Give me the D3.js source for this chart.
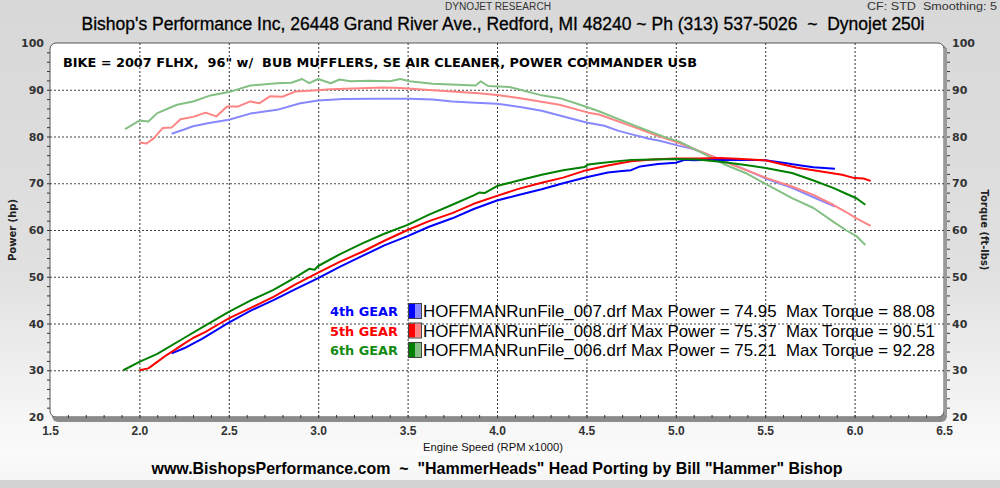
<!DOCTYPE html>
<html><head><meta charset="utf-8">
<script src="https://cdn.jsdelivr.net/npm/d3@7"></script>
<style>body{margin:0;background:#fff;overflow:hidden} text{white-space:pre}</style>
</head><body>
<svg id="c" width="1000" height="488"></svg>
<script>
// ---------- data ----------
const xTicks = [1.5, 2.0, 2.5, 3.0, 3.5, 4.0, 4.5, 5.0, 5.5, 6.0, 6.5];
const xTickLabels = ["1.5","2.0","2.5","3.0","3.5","4.0","4.5","5.0","5.5","6.0","6.5"];
const yTicks = [20, 30, 40, 50, 60, 70, 80, 90, 100];

const gearLabels = ["4th GEAR", "5th GEAR", "6th GEAR"];
const fileNames = ["HOFFMANRunFile_007.drf", "HOFFMANRunFile_008.drf", "HOFFMANRunFile_006.drf"];
const maxPower = ["74.95", "75.37", "75.21"];
const maxTorque = ["88.08", "90.51", "92.28"];

// 4th gear
const hp4Rpm = [2.18,2.25,2.35,2.5,2.62,2.75,2.87,3.0,3.12,3.25,3.37,3.5,3.62,3.75,3.87,4.0,4.12,4.25,4.37,4.5,4.62,4.7,4.75,4.8,4.9,5.0,5.05,5.1,5.2,5.3,5.4,5.5,5.6,5.7,5.77,5.85,5.89];
const hp4    = [33.6,34.7,36.7,40.2,42.7,45.0,47.3,49.7,52.1,54.5,56.7,58.7,60.7,62.5,64.5,66.3,67.5,68.7,70.0,71.3,72.3,72.6,72.8,73.6,74.1,74.4,75.0,74.9,75.0,75.0,75.0,74.9,74.4,73.8,73.4,73.2,73.1];
const tq4Rpm = [2.18,2.25,2.3,2.39,2.5,2.62,2.77,2.9,3.0,3.14,3.33,3.51,3.64,3.75,3.88,4.0,4.13,4.25,4.35,4.5,4.6,4.68,4.76,4.85,4.91,5.02,5.1,5.21,5.28,5.39,5.51,5.65,5.77,5.89];
const tq4    = [80.6,81.5,82.2,82.9,83.6,84.9,85.7,87.1,87.7,88.0,88.1,88.1,87.9,87.5,87.2,87.0,86.3,85.5,84.5,83.0,82.3,81.2,80.4,79.5,79.1,78.0,77.3,75.7,74.6,72.9,70.9,69.0,67.0,65.0];

// 5th gear
const hp5Rpm = [2.0,2.05,2.1,2.15,2.2,2.25,2.3,2.37,2.45,2.5,2.62,2.75,2.87,3.0,3.12,3.25,3.37,3.5,3.62,3.75,3.87,4.0,4.12,4.25,4.37,4.5,4.62,4.75,4.87,5.0,5.12,5.25,5.37,5.5,5.6,5.68,5.77,5.85,5.93,6.0,6.05,6.09];
const hp5    = [30.0,30.4,31.8,33.2,34.4,35.7,36.9,38.2,40.0,41.1,43.3,45.7,48.3,50.9,53.2,55.4,57.7,60.0,61.9,63.6,65.6,67.3,68.8,70.1,71.2,72.8,73.8,74.7,75.1,75.3,75.3,75.4,75.2,74.9,74.0,73.3,72.8,72.3,71.8,71.1,71.0,70.5];
const tq5Rpm = [2.0,2.04,2.08,2.13,2.18,2.23,2.3,2.37,2.43,2.49,2.55,2.62,2.67,2.73,2.8,2.87,2.95,3.07,3.24,3.36,3.46,3.64,3.88,4.0,4.13,4.35,4.51,4.57,4.76,4.91,5.02,5.13,5.21,5.32,5.51,5.65,5.77,5.88,5.95,6.01,6.09];
const tq5    = [78.7,78.5,79.6,81.8,81.9,83.7,84.2,85.1,84.3,86.4,86.4,87.5,87.1,88.6,88.5,89.6,89.8,90.1,90.3,90.5,90.4,89.9,89.3,88.9,88.2,86.8,85.1,84.7,82.1,80.0,78.6,76.9,75.7,73.9,71.1,69.3,67.5,65.4,63.9,62.5,60.9];

// 6th gear
const hp6Rpm = [1.91,2.0,2.1,2.25,2.37,2.5,2.62,2.75,2.87,2.95,2.98,3.0,3.12,3.25,3.37,3.5,3.62,3.75,3.87,3.9,3.93,4.0,4.12,4.25,4.37,4.49,4.51,4.62,4.75,4.87,5.0,5.12,5.25,5.39,5.51,5.65,5.77,5.88,5.95,6.01,6.06];
const hp6    = [30.0,31.8,33.5,36.9,39.6,42.5,44.9,47.2,49.8,51.7,51.5,52.3,54.8,57.2,59.2,61.1,63.3,65.4,67.4,68.0,67.9,69.4,70.6,71.8,72.8,73.5,74.0,74.5,75.0,75.1,75.2,75.1,74.6,73.9,73.2,72.2,70.6,69.0,67.8,66.8,65.4];
const tq6Rpm = [1.92,2.0,2.05,2.1,2.21,2.3,2.39,2.5,2.62,2.77,2.85,2.91,2.95,3.0,3.07,3.12,3.18,3.29,3.4,3.46,3.51,3.64,3.88,3.91,3.95,4.07,4.13,4.24,4.35,4.44,4.51,4.57,4.76,4.95,5.02,5.13,5.28,5.39,5.51,5.65,5.77,5.88,5.95,6.01,6.06];
const tq6    = [81.6,83.4,83.2,85.0,86.8,87.5,88.7,89.5,90.9,91.4,91.5,92.3,91.4,92.3,91.4,92.2,91.8,91.9,91.8,92.3,91.8,91.3,90.9,91.8,90.8,90.6,90.0,88.9,88.2,87.1,86.2,85.4,82.5,79.7,78.9,76.8,73.9,72.2,69.7,66.8,64.7,61.8,60.0,58.7,56.8];

const powerColors = ["#0000ff", "#ff0000", "#008000"];
const torqueColors = ["#8888ff", "#ff8484", "#84c084"];
const labelColors = ["#0000ff", "#ff0000", "#148c14"];

// ---------- layout ----------
const W = 1000, H = 488;
const L = 50, R = 944, T = 43, B = 417;
const svg = d3.select("#c");

const defs = svg.append("defs");
const bg = defs.append("linearGradient").attr("id","bg").attr("x1",0).attr("y1",0).attr("x2",0).attr("y2",1);
bg.append("stop").attr("offset","0").attr("stop-color","#d8d8d8");
bg.append("stop").attr("offset","0.55").attr("stop-color","#e0e0e0");
bg.append("stop").attr("offset","0.93").attr("stop-color","#fbfbfb");
bg.append("stop").attr("offset","1").attr("stop-color","#f4f4f4");
svg.append("rect").attr("width",W).attr("height",H).attr("fill","url(#bg)");
svg.append("rect").attr("x",0).attr("y",480).attr("width",W).attr("height",8).attr("fill","#d2d2d2");

defs.append("clipPath").attr("id","clip").append("rect")
  .attr("x",L).attr("y",T).attr("width",R-L).attr("height",B-T).attr("rx",6);

const x = d3.scaleLinear().domain([1.5, 6.5]).range([L, R]);
const y = d3.scaleLinear().domain([20, 100]).range([B, T]);
const y2 = d3.scaleLinear().domain([20, 100]).range([B, T]);

// shadow + frame
svg.append("rect").attr("x",L+2).attr("y",T+2).attr("width",R-L+1).attr("height",B-T+3).attr("rx",6).attr("fill","#8e8e8e");
svg.append("rect").attr("x",L).attr("y",T).attr("width",R-L).attr("height",B-T).attr("rx",6)
  .attr("fill","#fff").attr("stroke","#555").attr("stroke-width",1);

// grid
const gridX = svg.append("g").attr("transform",`translate(0,${B})`)
  .call(d3.axisBottom(x).tickValues(xTicks.slice(1,-1)).tickSize(-(B-T)).tickFormat(""));
gridX.select(".domain").remove();
gridX.selectAll("line").attr("stroke","#333").attr("stroke-dasharray","2,2").attr("stroke-width",1);
const gridY = svg.append("g").attr("transform",`translate(${L},0)`)
  .call(d3.axisLeft(y).tickValues(yTicks.slice(1,-1)).tickSize(-(R-L)).tickFormat(""));
gridY.select(".domain").remove();
gridY.selectAll("line").attr("stroke","#444").attr("stroke-dasharray","2,2").attr("stroke-width",1);

// bottom shaded band with minor ticks
svg.append("line").attr("x1",L+4).attr("x2",R-2).attr("y1",B+1.5).attr("y2",B+1.5).attr("stroke","#8a8a8a").attr("stroke-width",4);
svg.append("line").attr("x1",R+1.5).attr("x2",R+1.5).attr("y1",T+5).attr("y2",B-2).attr("stroke","#9a9a9a").attr("stroke-width",3);
const minorX = d3.range(1.6, 6.45, 0.1);
const mx = svg.append("g").attr("transform",`translate(0,${B+1})`)
  .call(d3.axisTop(x).tickValues(minorX).tickSize(3).tickFormat(""));
mx.select(".domain").remove();
mx.selectAll("line").attr("stroke","#333");
const minorY = d3.range(22, 100, 2);
const ml = svg.append("g").attr("transform",`translate(${L},0)`)
  .call(d3.axisLeft(y).tickValues(minorY).tickSize(3).tickFormat(""));
ml.select(".domain").remove(); ml.selectAll("line").attr("stroke","#333");
const mr = svg.append("g").attr("transform",`translate(${R+3},0)`)
  .call(d3.axisRight(y2).tickValues(minorY).tickSize(3).tickFormat(""));
mr.select(".domain").remove(); mr.selectAll("line").attr("stroke","#333");

// axis labels
const ax = svg.append("g").attr("transform",`translate(${L-1},0)`)
  .call(d3.axisLeft(y).tickValues(yTicks).tickSize(0).tickPadding(5));
ax.select(".domain").remove();
ax.selectAll("text").attr("font-family","DejaVu Sans").attr("font-weight","bold").attr("font-size",11).attr("fill","#333");
const axr = svg.append("g").attr("transform",`translate(${R+2},0)`)
  .call(d3.axisRight(y2).tickValues(yTicks).tickSize(0).tickPadding(6));
axr.select(".domain").remove();
axr.selectAll("text").attr("font-family","DejaVu Sans").attr("font-weight","bold").attr("font-size",11).attr("fill","#333");
const axb = svg.append("g").attr("transform",`translate(0,${B})`)
  .call(d3.axisBottom(x).tickValues(xTicks).tickSize(0).tickPadding(9).tickFormat((d,i)=>xTickLabels[i]));
axb.select(".domain").remove();
axb.selectAll("text").attr("font-family","Liberation Sans Narrow, Liberation Sans").attr("font-weight","bold").attr("font-size",12).attr("fill","#333");

svg.append("text").attr("x",493).attr("y",451).attr("text-anchor","middle")
  .attr("font-family","Liberation Sans Narrow, Liberation Sans").attr("font-size",11).attr("fill","#111")
  .attr("textLength",140).attr("lengthAdjust","spacingAndGlyphs").text("Engine Speed (RPM x1000)");
svg.append("text").attr("transform","translate(16,230) rotate(-90)").attr("text-anchor","middle")
  .attr("font-family","DejaVu Sans").attr("font-weight","bold").attr("font-size",10).attr("fill","#222").text("Power (hp)");
svg.append("text").attr("transform","translate(981,230) rotate(90)").attr("text-anchor","middle")
  .attr("font-family","DejaVu Sans").attr("font-weight","bold").attr("font-size",10).attr("fill","#222").text("Torque (ft-lbs)");

// header/footer
svg.append("text").attr("x",498).attr("y",10).attr("text-anchor","middle")
  .attr("font-family","Liberation Sans Narrow, Liberation Sans").attr("font-size",10).attr("fill","#333")
  .attr("textLength",106).attr("lengthAdjust","spacingAndGlyphs").text("DYNOJET RESEARCH");
svg.append("text").attr("x",997).attr("y",10).attr("text-anchor","end")
  .attr("font-family","Liberation Sans Narrow, Liberation Sans").attr("font-size",10).attr("fill","#333")
  .attr("textLength",130).attr("lengthAdjust","spacingAndGlyphs").text("CF: STD  Smoothing: 5");
svg.append("text").attr("x",503).attr("y",30).attr("text-anchor","middle")
  .attr("font-family","Liberation Sans Narrow, Liberation Sans").attr("font-size",18).attr("fill","#000")
  .attr("stroke","#000").attr("stroke-width",0.3)
  .attr("textLength",843).attr("lengthAdjust","spacingAndGlyphs")
  .text("Bishop's Performance Inc, 26448 Grand River Ave., Redford, MI 48240 ~ Ph (313) 537-5026  ~  Dynojet 250i");
svg.append("text").attr("x",497).attr("y",474).attr("text-anchor","middle")
  .attr("font-family","Liberation Sans Narrow, Liberation Sans").attr("font-weight","bold").attr("font-size",17).attr("fill","#000")
  .attr("textLength",691).attr("lengthAdjust","spacingAndGlyphs")
  .text("www.BishopsPerformance.com  ~  \"HammerHeads\" Head Porting by Bill \"Hammer\" Bishop");

// plot content
const plot = svg.append("g").attr("clip-path","url(#clip)");
plot.append("text").attr("x",63).attr("y",67)
  .attr("font-family","DejaVu Sans").attr("font-weight","bold").attr("font-size",13).attr("fill","#000")
  .attr("textLength",634).attr("lengthAdjust","spacingAndGlyphs")
  .text("BIKE = 2007 FLHX,  96\" w/  BUB MUFFLERS, SE AIR CLEANER, POWER COMMANDER USB");

const line = d3.line().x(d=>x(d[0])).y(d=>y(d[1]));
const torqueSeries = [[tq4Rpm,tq4],[tq5Rpm,tq5],[tq6Rpm,tq6]];
const powerSeries = [[hp4Rpm,hp4],[hp5Rpm,hp5],[hp6Rpm,hp6]];
torqueSeries.forEach((s,i)=>{
  plot.append("path").datum(d3.zip(s[0],s[1])).attr("d",line)
    .attr("fill","none").attr("stroke",torqueColors[i]).attr("stroke-width",2).attr("stroke-linejoin","round");
});
powerSeries.forEach((s,i)=>{
  plot.append("path").datum(d3.zip(s[0],s[1])).attr("d",line)
    .attr("fill","none").attr("stroke",powerColors[i]).attr("stroke-width",2).attr("stroke-linejoin","round");
});

// legend
const rowY = [311, 330.5, 350];
gearLabels.forEach((g,i)=>{
  const cy = rowY[i];
  plot.append("text").attr("x",398).attr("y",cy+5).attr("text-anchor","end")
    .attr("font-family","DejaVu Sans").attr("font-weight","bold").attr("font-size",13).attr("fill",labelColors[i])
    .attr("textLength",68).attr("lengthAdjust","spacingAndGlyphs").text(g);
  plot.append("rect").attr("x",409).attr("y",cy-7).attr("width",6).attr("height",14).attr("fill",powerColors[i]);
  plot.append("rect").attr("x",415).attr("y",cy-7).attr("width",6).attr("height",14).attr("fill",torqueColors[i]);
  plot.append("rect").attr("x",408.5).attr("y",cy-7.5).attr("width",13).attr("height",15).attr("fill","none").attr("stroke","#444").attr("stroke-width",1);
  plot.append("text").attr("x",423).attr("y",cy+6)
    .attr("font-family","Liberation Sans").attr("font-size",17).attr("fill","#000")
    .attr("textLength",512).attr("lengthAdjust","spacingAndGlyphs")
    .text(`${fileNames[i]} Max Power = ${maxPower[i]}  Max Torque = ${maxTorque[i]}`);
});
</script>
</body></html>
